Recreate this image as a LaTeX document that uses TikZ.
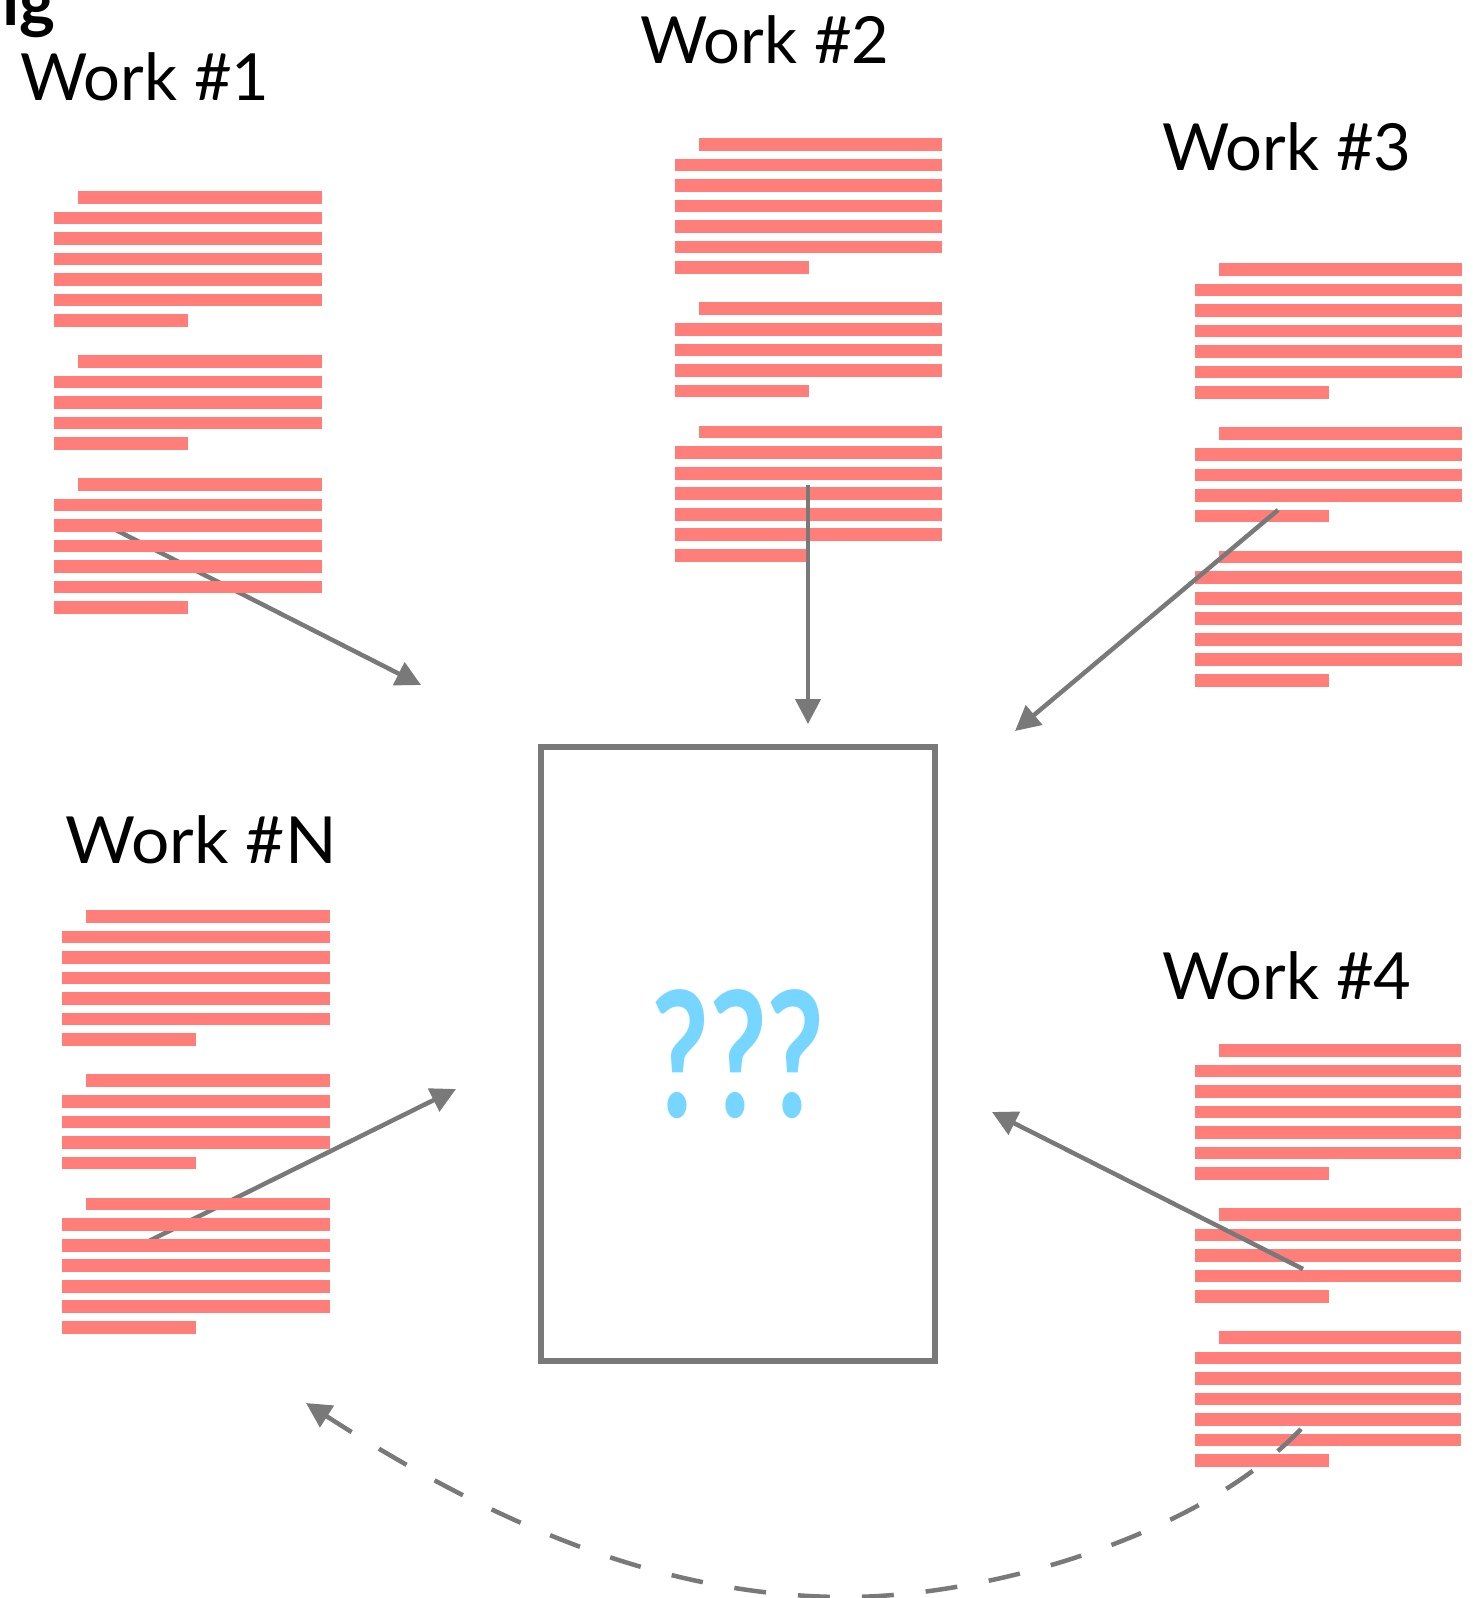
\documentclass[tikz,border=0pt]{standalone}
\usepackage{fontspec}
\setmainfont{Lato}
\usetikzlibrary{arrows.meta}
\definecolor{barc}{HTML}{FF7E79}
\definecolor{arr}{HTML}{797979}
\definecolor{qc}{HTML}{76D6FF}
\newcommand\workbars[4]{% left, top, pitch, width
  \foreach \r in {0,8,14} \fill[bar] ({#1+24},{#2+\r*#3}) rectangle ++({#4-24},12.7);
  \foreach \r in {1,2,3,4,5,9,10,11,15,16,17,18,19} \fill[bar] (#1,{#2+\r*#3}) rectangle ++(#4,12.7);
  \foreach \r in {6,12,20} \fill[bar] (#1,{#2+\r*#3}) rectangle ++(134,12.7);
}
\begin{document}
\begin{tikzpicture}[x=1pt,y=-1pt,
  bar/.style={fill=barc},
  conn/.style={draw=arr, line width=4.5pt, -{Triangle[length=25pt,width=25pt]}},
  dconn/.style={conn, dash pattern=on 32pt off 32pt},
  title/.style={anchor=base west, inner sep=0pt, font=\fontsize{65}{70}\selectfont},
  box/.style={draw=arr, line width=5.5pt, minimum width=394pt, minimum height=614pt, inner sep=0pt}]
\clip (0,0) rectangle (1479,1598);
% endpoints
\coordinate (a1s) at (110,527);  \coordinate (a1e) at (421,685);
\coordinate (a2s) at (808,485);  \coordinate (a2e) at (808,724);
\coordinate (a3s) at (1278,510); \coordinate (a3e) at (1015,731);
\coordinate (a4s) at (1303,1269);\coordinate (a4e) at (992,1112);
\coordinate (aNs) at (149,1241); \coordinate (aNe) at (456,1089);
\coordinate (ds) at (1301,1429); \coordinate (dm) at (846,1597); \coordinate (de) at (306,1403);
% arrows under bars
\draw[conn] (a1s) -- (a1e);
\draw[conn] (aNs) -- (aNe);
% bars
\workbars{54}{191}{20.5}{268}
\workbars{675}{138}{20.55}{267}
\workbars{1195}{263}{20.55}{267}
\workbars{62}{910}{20.55}{268}
\workbars{1195}{1044}{20.5}{266}
% arrows over bars
\draw[conn] (a2s) -- (a2e);
\draw[conn] (a3s) -- (a3e);
\draw[conn] (a4s) -- (a4e);
\draw[dconn] (ds) .. controls (1197,1538) and (985,1597) .. (dm)
                  .. controls (649,1597) and (474,1511) .. (de);
% box
\node[box, font=\fontsize{175}{180}\selectfont\bfseries, text=qc] (box) at (738,1054) {\scalebox{0.72}[1]{???}};
% titles
\node[anchor=base west, inner sep=0pt, font=\fontsize{68}{72}\selectfont\bfseries] (ig) at (2,25) {ig};
\node[title] (w1) at (20,100) {Work \#1};
\node[title] (w2) at (640,63) {Work \#2};
\node[title] (w3) at (1162,170) {Work \#3};
\node[title] (wN) at (65,863) {\scalebox{1.04}[1]{Work \#N}};
\node[title] (w4) at (1162,999) {Work \#4};
\end{tikzpicture}
\end{document}
